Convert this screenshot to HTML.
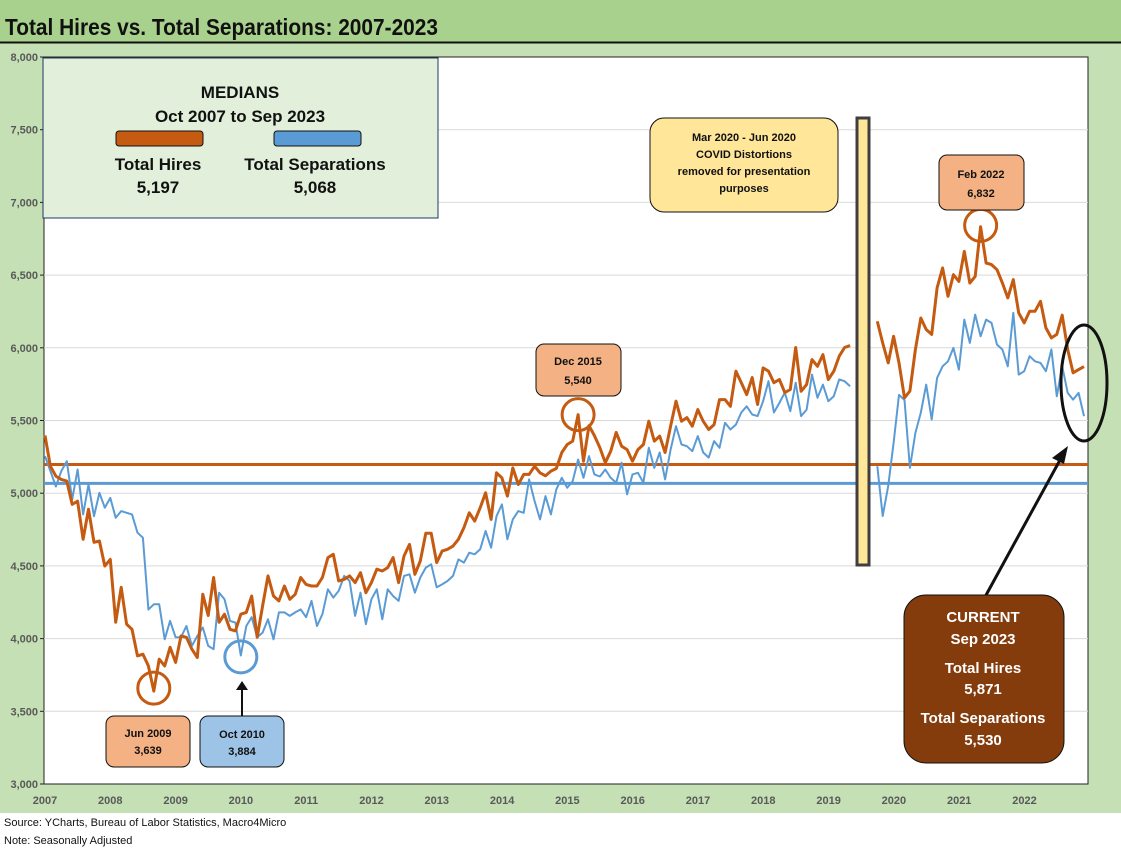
<!DOCTYPE html>
<html><head><meta charset="utf-8">
<style>
html,body{margin:0;padding:0;background:#fff;}
svg{display:block;font-family:"Liberation Sans",Arial,sans-serif;}
</style></head>
<body>
<svg id="chart" width="1121" height="850" viewBox="0 0 1121 850" xmlns="http://www.w3.org/2000/svg">
  <rect x="0" y="0" width="1121" height="813" fill="#c5e0b4"/>
  <rect x="0" y="0" width="1121" height="42" fill="#a9d18e"/>
  <line x1="0" y1="42.5" x2="1121" y2="42.5" stroke="#111" stroke-width="2"/>
  <text x="5" y="35" font-size="23" font-weight="bold" fill="#111" textLength="433" lengthAdjust="spacingAndGlyphs">Total Hires vs. Total Separations: 2007-2023</text>
  <rect x="44" y="57" width="1044" height="727" fill="#fff" stroke="#222" stroke-width="1"/>
  <g id="grid"></g>
  <g id="yticks"></g>
  <g id="xticks"></g>
  <g id="medians"></g>
  <g id="series"></g>
  <rect x="0" y="813" width="1121" height="37" fill="#fff"/>
  <text x="4" y="826" font-size="11" fill="#111">Source: YCharts, Bureau of Labor Statistics, Macro4Micro</text>
  <text x="4" y="844" font-size="11" fill="#111">Note: Seasonally Adjusted</text>
  <g id="annot"></g>
</svg>
<script>
const yTicks=[3000,3500,4000,4500,5000,5500,6000,6500,7000,7500,8000];
const xYears=["2007","2008","2009","2010","2011","2012","2013","2014","2015","2016","2017","2018","2019","2020","2021","2022"];
const medianHires=5197;
const medianSeparations=5068;
// Oct 2007 .. Sep 2023 monthly (null = Mar-Jun 2020 removed)
const hires=[5397,5186,5117,5095,5083,4923,4946,4683,4889,4662,4671,4499,4545,4112,4353,4099,4064,3881,3893,3812,3639,3858,3812,3940,3836,4018,4009,3927,3870,4305,4159,4420,4112,4168,4064,4053,4168,4180,4293,4009,4225,4431,4293,4259,4362,4270,4305,4420,4373,4362,4362,4420,4557,4580,4396,
4408,4431,4385,4453,4316,4385,4477,4465,4488,4557,4385,4568,4648,4442,4534,4724,4724,4523,4602,4614,4636,4683,4763,4865,4808,4900,5003,4820,5140,5106,4980,5174,5060,5129,5129,5186,5140,5120,5152,5170,5280,5335,5358,5540,5220,5465,5396,5312,
5210,5289,5418,5323,5300,5220,5300,5335,5495,5358,5393,5280,5461,5633,5495,5520,5461,5575,5495,5438,5472,5644,5644,5598,5839,5760,5678,5795,5610,5862,5839,5760,5782,5692,5713,6002,5701,5747,5919,5873,5953,5782,5839,5942,6002,6015,
null,null,null,null,
6182,6033,5896,6079,5896,5656,5702,5988,6205,6126,6092,6412,6549,6354,6503,6457,6663,6446,6491,6832,6583,6572,6537,6446,6343,6469,6240,6171,6251,6251,6320,6137,6068,6092,6224,5988,5828,5850,5871];
const separations=[5255,5152,5046,5152,5220,4957,5163,4854,5060,4842,5003,4900,4968,4831,4877,4865,4854,4728,4694,4200,4236,4236,3995,4122,4009,4009,4087,3950,4018,4076,3950,3927,4316,4270,4122,4110,3884,4087,4147,4009,4041,4133,3995,4180,4180,4156,4180,4201,4147,4259,4087,4168,4339,4282,4328,
4431,4396,4156,4316,4099,4270,4339,4133,4339,4293,4259,4431,4442,4316,4420,4488,4511,4353,4373,4396,4431,4545,4523,4591,4580,4614,4740,4625,4842,4923,4683,4820,4877,4865,5095,4946,4820,4980,4854,5026,5106,5037,5083,5232,5106,5255,5129,5115,
5163,5106,5072,5210,4992,5129,5140,5072,5312,5174,5280,5095,5300,5461,5335,5323,5289,5393,5280,5245,5358,5312,5484,5438,5472,5555,5598,5541,5530,5633,5770,5555,5621,5692,5564,5760,5530,5575,5816,5656,5747,5633,5667,5782,5770,5736,
null,null,null,null,
5186,4843,5049,5346,5676,5641,5175,5415,5553,5747,5507,5793,5873,5907,5999,5850,6194,6034,6228,6079,6194,6171,6022,5988,5873,6240,5816,5839,5942,5907,5896,5839,5988,5667,5873,5690,5644,5690,5530];

const NS="http://www.w3.org/2000/svg";
const PL=44,PR=1088,PT=57,PB=784;
const yScale=v=>PB-(v-3000)/(8000-3000)*(PB-PT);
const N=hires.length;
const xScale=i=>45+i*(1084-45)/(N-1);
const yearX=k=>45+k*65.3;
function mk(tag,attrs,parent){const e=document.createElementNS(NS,tag);for(const k in attrs)e.setAttribute(k,attrs[k]);parent.appendChild(e);return e;}
const grid=document.getElementById('grid'),yt=document.getElementById('yticks'),xt=document.getElementById('xticks');
yTicks.forEach(v=>{
  const y=yScale(v);
  if(v>3000&&v<8000){const g=mk('line',{x1:PL,x2:PR,y1:y,y2:y,stroke:'#d9d9d9','stroke-width':1},grid);
  
  }
  const tk=mk('line',{x1:PL-4,x2:PL,y1:y,y2:y,stroke:'#222'},yt);
  
  
  const t=mk('text',{x:PL-6,y:y+4,'text-anchor':'end','font-size':11,'font-weight':'bold',fill:'#595959'},yt);
  
  
  t.textContent=v.toLocaleString('en-US');
});
xYears.forEach((s,k)=>{
  const t=mk('text',{x:yearX(k),y:804,'text-anchor':'middle','font-size':11,'font-weight':'bold',fill:'#595959'},xt);
  
  
  t.textContent=s;
});
const med=document.getElementById('medians');
const m1=mk('line',{x1:PL,x2:PR,y1:yScale(medianHires),y2:yScale(medianHires),stroke:'#c55a11','stroke-width':3},med);


const m2=mk('line',{x1:PL,x2:PR,y1:yScale(medianSeparations),y2:yScale(medianSeparations),stroke:'#5b9bd5','stroke-width':3},med);


const ser=document.getElementById('series');
// covid bar
const cb=mk('rect',{x:857,y:118,width:12,height:447,fill:'#ffe699',stroke:'#3f3f3f','stroke-width':3},ser);


function pathOf(arr){let d='',pen=false;arr.forEach((v,i)=>{if(v==null){pen=false;return;}d+=(pen?'L':'M')+xScale(i).toFixed(1)+','+yScale(v).toFixed(1);pen=true;});return d;}
const ps=mk('path',{d:pathOf(separations),fill:'none',stroke:'#5b9bd5','stroke-width':2,'stroke-linejoin':'round'},ser);


const ph=mk('path',{d:pathOf(hires),fill:'none',stroke:'#c55a11','stroke-width':3,'stroke-linejoin':'round'},ser);


const an=document.getElementById('annot');
function circ(i,v,col,name){const c=mk('circle',{cx:xScale(i),cy:yScale(v),r:16,fill:'none',stroke:col,'stroke-width':3},an);}
circ(20,hires[20]+20,'#c55a11','jun-2009-marker');
circ(36,separations[36]-10,'#5b9bd5','oct-2010-marker');
circ(98,hires[98]+0,'#c55a11','dec-2015-marker');
circ(172,hires[172]+10,'#c55a11','feb-2022-marker');
</script>
<svg style="position:absolute;left:0;top:0" width="1121" height="850">
  <g font-family="Liberation Sans, Arial, sans-serif" font-weight="bold" text-anchor="middle" fill="#111">
    <g>
      <rect x="43" y="58" width="395" height="160" fill="#e2efda" stroke="#1f3864" stroke-width="1"/>
      <text x="240" y="98" font-size="17">MEDIANS</text>
      <text x="240" y="122" font-size="17">Oct 2007 to Sep 2023</text>
      <rect x="116" y="131" width="87" height="15" rx="3" fill="#c55a11" stroke="#111"/>
      <rect x="274" y="131" width="87" height="15" rx="3" fill="#5b9bd5" stroke="#111"/>
      <text x="158" y="170" font-size="17">Total Hires</text>
      <text x="158" y="193" font-size="17">5,197</text>
      <text x="315" y="170" font-size="17">Total Separations</text>
      <text x="315" y="193" font-size="17">5,068</text>
    </g>
    <g>
      <rect x="650" y="118" width="188" height="94" rx="14" fill="#ffe699" stroke="#111"/>
      <text x="744" y="141" font-size="11">Mar 2020 - Jun 2020</text>
      <text x="744" y="158" font-size="11">COVID Distortions</text>
      <text x="744" y="175" font-size="11">removed for presentation</text>
      <text x="744" y="192" font-size="11">purposes</text>
    </g>
    <g>
      <rect x="939" y="155" width="85" height="55" rx="8" fill="#f4b183" stroke="#111"/>
      <text x="981" y="178" font-size="11">Feb 2022</text>
      <text x="981" y="197" font-size="11">6,832</text>
    </g>
    <g>
      <rect x="536" y="344" width="85" height="52" rx="8" fill="#f4b183" stroke="#111"/>
      <text x="578" y="365" font-size="11">Dec 2015</text>
      <text x="578" y="384" font-size="11">5,540</text>
    </g>
    <g>
      <rect x="106" y="716" width="84" height="51" rx="8" fill="#f4b183" stroke="#111"/>
      <text x="148" y="737" font-size="11">Jun 2009</text>
      <text x="148" y="754" font-size="11">3,639</text>
    </g>
    <g>
      <rect x="200" y="716" width="84" height="51" rx="8" fill="#9dc3e6" stroke="#111"/>
      <text x="242" y="738" font-size="11">Oct 2010</text>
      <text x="242" y="755" font-size="11">3,884</text>
    </g>
    <g>
      <line x1="242" y1="716" x2="242" y2="690" stroke="#111" stroke-width="2"/>
      <polygon points="236,690 248,690 242,681" fill="#111"/>
    </g>
    <g>
      <ellipse cx="1084" cy="383" rx="23" ry="58" fill="none" stroke="#111" stroke-width="3"/>
    </g>
    <g>
      <line x1="985" y1="597" x2="1060" y2="460" stroke="#111" stroke-width="3"/>
      <polygon points="1068,446 1052,458 1064,464" fill="#111"/>
    </g>
    <g fill="#fff">
      <rect x="904" y="595" width="160" height="168" rx="22" fill="#843c0c" stroke="#111"/>
      <text x="983" y="622" font-size="15">CURRENT</text>
      <text x="983" y="644" font-size="15">Sep 2023</text>
      <text x="983" y="673" font-size="15">Total Hires</text>
      <text x="983" y="694" font-size="15">5,871</text>
      <text x="983" y="723" font-size="15">Total Separations</text>
      <text x="983" y="745" font-size="15">5,530</text>
    </g>
  </g>
</svg>
</body></html>
